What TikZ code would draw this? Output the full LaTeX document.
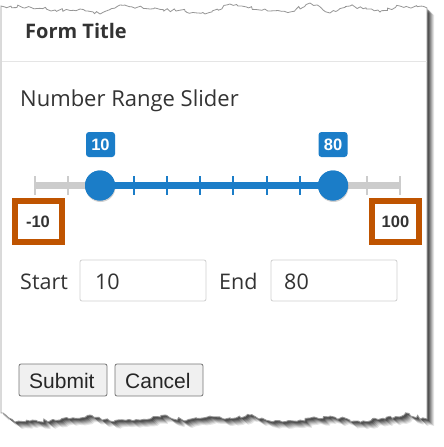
\documentclass[tikz,border=0pt]{standalone}
\usepackage{fontspec}
\setmainfont{Open Sans}
\newfontfamily\arialf{Liberation Sans}
\usetikzlibrary{decorations.pathmorphing}
\definecolor{sblue}{RGB}{27,125,200}
\definecolor{tgray}{RGB}{204,204,204}
\definecolor{ored}{RGB}{191,84,0}
\definecolor{txt}{RGB}{51,51,51}
\definecolor{edge}{RGB}{150,150,150}
\newcommand\drawpanel[1]{%
  \pgfmathsetseed{17}%
  \path[#1] (1,413) -- (1,6)
    decorate{ -- (30,7) -- (55,10) -- (80,9) -- (100,14) -- (120,5) -- (150,9) -- (185,11)
      -- (205,14) -- (230,4) -- (260,10) -- (290,12) -- (310,3) -- (330,13) -- (350,6)
      -- (380,12) -- (400,6) -- (427,8)}
    -- (427,419)
    decorate{ -- (405,414) -- (385,419) -- (355,421) -- (330,416) -- (300,420) -- (270,421)
      -- (250,415) -- (225,419) -- (210,416) -- (185,421) -- (165,415) -- (140,420)
      -- (110,421) -- (90,415) -- (60,420) -- (30,421) -- (15,422) -- (1,413)}
    -- cycle;}
\tikzset{
  torn/.style={decoration={random steps,segment length=3pt,amplitude=1.6pt}},
  bodytext/.style={anchor=base west,inner sep=0pt,text=txt,font=\fontsize{21.5}{25}\selectfont},
  numtext/.style={inner sep=0pt,font=\arialf\bfseries\fontsize{16.5}{19}\selectfont},
  bubble/.style={fill=sblue,rounded corners=3pt,minimum width=29pt,minimum height=25pt,inner sep=0pt,text=white,numtext},
  scalebox/.style={draw=ored,line width=6pt,minimum width=47pt,minimum height=41pt,inner sep=0pt,text=txt,numtext},
  inbox/.style={draw=black!19,rounded corners=2pt,line width=0.8pt,minimum width=126pt,minimum height=41pt,inner sep=0pt},
  btn/.style={draw=black!54,fill=black!6,rounded corners=2pt,line width=0.8pt,minimum width=88pt,minimum height=32pt,inner sep=0pt},
  btntext/.style={anchor=base west,inner sep=0pt,text=black!85,font=\arialf\fontsize{21}{24}\selectfont},
  knob/.style={circle,fill=sblue,minimum size=30pt,inner sep=0pt},
  tick/.style={line width=2.2pt}
}
\begin{document}
\begin{tikzpicture}[x=1pt,y=-1pt]
\useasboundingbox (0,0) rectangle (444,447);
% shadow
\foreach \d/\o in {7/0.10,6/0.12,5/0.15,4/0.18,3/0.22,2/0.25}{%
  \begin{scope}[shift={(\d,\d)}]
    \drawpanel{torn,fill=black,fill opacity=\o}
  \end{scope}}
\drawpanel{torn,fill=white,draw=edge,line width=0.8pt}
% header
\node[anchor=base west,inner sep=0pt,text=txt,font=\bfseries\fontsize{20}{23}\selectfont] (title) at (25,38) {Form Title};
\coordinate (sepL) at (1.5,61);
\coordinate (sepR) at (426.5,61);
\draw[black!10,line width=1pt] (sepL) -- (sepR);
\node[bodytext,font=\fontsize{22}{26}\selectfont] (lbl) at (20,106) {Number Range Slider};
% slider track
\coordinate (tL) at (35,185.5);
\coordinate (tR) at (400,185.5);
\draw[tgray,line width=7pt] (tL) -- (tR);
\foreach \x in {35,68,367,400}{\draw[tgray,tick] (\x,176) -- (\x,195);}
\node[knob,fill=black,opacity=0.18] at (100.5,187) {};
\node[knob,fill=black,opacity=0.18] at (333.5,187) {};
\node[knob] (h1) at (100,185.5) {};
\node[knob] (h2) at (333,185.5) {};
\draw[sblue,line width=7pt] (h1.center) -- (h2.center);
\foreach \x in {134,167,200,233,267,300}{\draw[sblue,tick] (\x,176) -- (\x,195);}
\node[knob] at (h1) {};
\node[knob] at (h2) {};
\node[bubble] (b1) at (100.5,144.5) {10};
\node[bubble] (b2) at (333,144.5) {80};
\node[scalebox] (smin) at (38,221.5) {-10};
\node[scalebox] (smax) at (395.5,221.5) {100};
% inputs
\node[bodytext] (start) at (20,289) {Start};
\node[inbox] (in1) at (143,280.5) {};
\node[bodytext] (v1) at (95,289) {10};
\node[bodytext] (endl) at (219,289) {End};
\node[inbox] (in2) at (334,280.5) {};
\node[bodytext] (v2) at (284,289) {80};
% buttons
\node[btn] (sub) at (63,380) {};
\node[btntext] at (29,388) {Submit};
\node[btn] (can) at (159,380) {};
\node[btntext] at (125,388) {Cancel};
\end{tikzpicture}
\end{document}
